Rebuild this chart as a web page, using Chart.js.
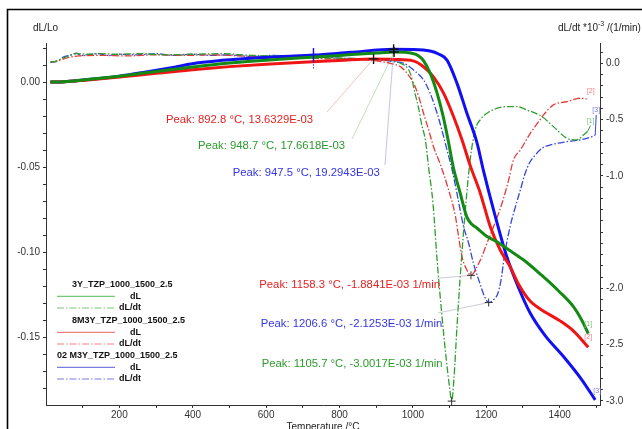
<!DOCTYPE html>
<html>
<head>
<meta charset="utf-8">
<script src="https://cdn.jsdelivr.net/npm/chart.js@4.4.0/dist/chart.umd.min.js"></script>
<style>
  html, body { margin: 0; padding: 0; background: #fff; }
</style>
</head>
<body>
<canvas id="dilato" width="642" height="429"></canvas>
<script>
// sample names, order: green, red, blue
const names = ["3Y_TZP_1000_1500_2.5", "8M3Y_TZP_1000_1500_2.5", "02 M3Y_TZP_1000_1500_2.5"];

// dL/Lo curves (left axis)
const tGreenDL = [12, 50, 100, 200, 300, 400, 500, 600, 700, 800, 900, 948.7, 1000, 1015, 1028, 1047, 1066, 1083, 1096, 1110, 1129, 1147, 1160, 1175, 1200, 1229, 1260, 1302, 1350, 1400, 1437, 1460, 1478];
const greenDL = [0, 0.0002, 0.0012, 0.0035, 0.0062, 0.0089, 0.0112, 0.0129, 0.0143, 0.0157, 0.0171, 0.01766, 0.0168, 0.0155, 0.0129, 0.0053, -0.0065, -0.0206, -0.0341, -0.0500, -0.0653, -0.0793, -0.0835, -0.0860, -0.0905, -0.0940, -0.0985, -0.1047, -0.1135, -0.1235, -0.1320, -0.1400, -0.1480];

const tRedDL = [12, 50, 100, 200, 300, 400, 500, 600, 700, 800, 892.8, 950, 1001, 1029, 1056, 1084, 1111, 1134, 1156, 1184, 1211, 1238, 1265, 1288, 1320, 1347, 1401, 1438, 1478];
const redDL = [0, 0.0002, 0.0010, 0.0030, 0.0052, 0.0073, 0.0091, 0.0105, 0.0117, 0.0127, 0.01363, 0.0133, 0.0125, 0.0090, 0.0031, -0.0066, -0.0204, -0.0341, -0.0490, -0.0655, -0.0851, -0.0988, -0.1086, -0.1190, -0.1290, -0.1335, -0.1405, -0.1465, -0.1560];

const tBlueDL = [12, 50, 100, 200, 273, 350, 410, 480, 546, 640, 729, 830, 947.5, 1000, 1047, 1070, 1093, 1120, 1147, 1175, 1192, 1220, 1256, 1288, 1320, 1360, 1411, 1460, 1497];
const blueDL = [0, 0.0002, 0.0012, 0.0035, 0.0060, 0.0088, 0.0112, 0.0128, 0.0139, 0.0150, 0.0159, 0.0175, 0.01929, 0.0192, 0.0183, 0.0165, 0.0129, -0.0006, -0.0182, -0.0359, -0.0518, -0.0753, -0.1028, -0.1210, -0.1360, -0.1490, -0.1616, -0.1750, -0.1870];

// dL/dt curves (right axis, *10^-3 1/min)
const tGreenRate = [12, 28, 50, 69, 83, 110, 150, 200, 260, 320, 400, 480, 560, 640, 720, 800, 870, 930, 966, 993, 1006, 1015, 1025, 1034, 1043, 1055, 1066, 1078, 1090, 1100, 1105.7, 1112, 1120, 1130, 1143, 1156, 1170, 1184, 1202, 1229, 1261, 1284, 1311, 1352, 1383, 1420, 1447, 1465, 1476];
const greenRate = [0.01, 0.02, 0.05, 0.075, 0.085, 0.08, 0.085, 0.08, 0.085, 0.075, 0.08, 0.085, 0.07, 0.065, 0.05, 0.045, 0.04, 0.03, 0.0, -0.09, -0.27, -0.39, -0.56, -0.68, -0.93, -1.25, -1.75, -2.2, -2.6, -2.88, -3.0017, -2.8, -2.35, -1.85, -1.3, -0.86, -0.59, -0.50, -0.444, -0.40, -0.385, -0.385, -0.415, -0.474, -0.563, -0.666, -0.681, -0.637, -0.607];

const tRedRate = [12, 30, 60, 90, 150, 220, 300, 380, 450, 530, 600, 680, 760, 830, 892.8, 938, 966, 984, 1002, 1016, 1029, 1043, 1056, 1075, 1095, 1116, 1125, 1134, 1147, 1158.3, 1175, 1188, 1202, 1220, 1243, 1261, 1274, 1293, 1320, 1343, 1356, 1383, 1420, 1456, 1474];
const redRate = [0.01, 0.02, 0.05, 0.065, 0.07, 0.065, 0.075, 0.07, 0.075, 0.065, 0.06, 0.05, 0.04, 0.035, 0.025, 0.0, -0.03, -0.089, -0.178, -0.297, -0.444, -0.592, -0.74, -0.90, -1.10, -1.36, -1.55, -1.72, -1.836, -1.8841, -1.806, -1.717, -1.598, -1.451, -1.243, -1.036, -0.859, -0.77, -0.622, -0.518, -0.459, -0.37, -0.341, -0.311, -0.317];

const tBlueRate = [12, 28, 50, 69, 83, 95, 110, 140, 170, 200, 250, 300, 350, 400, 450, 500, 560, 620, 680, 740, 800, 860, 910, 947, 975, 1002, 1029, 1047, 1066, 1079, 1093, 1107, 1120, 1138, 1152, 1165, 1179, 1195, 1206.6, 1220, 1231, 1240, 1250, 1265, 1279, 1293, 1306, 1320, 1334, 1352, 1375, 1420, 1456, 1488, 1497];
const blueRate = [0.01, 0.015, 0.06, 0.074, 0.09, 0.07, 0.074, 0.085, 0.07, 0.08, 0.075, 0.085, 0.07, 0.08, 0.07, 0.075, 0.06, 0.07, 0.055, 0.06, 0.045, 0.04, 0.03, 0.014, 0.0, -0.06, -0.148, -0.266, -0.444, -0.592, -0.77, -0.948, -1.154, -1.45, -1.599, -1.777, -1.92, -2.07, -2.1253, -2.10, -2.05, -1.93, -1.70, -1.45, -1.28, -1.125, -0.977, -0.873, -0.814, -0.755, -0.725, -0.696, -0.681, -0.652, -0.637];

// evaluated peaks
const peakTemps = [948.7, 892.8, 947.5];
const peakDL = [17.6618e-3, 13.6329e-3, 19.2943e-3];
const minTemps = [1105.7, 1158.3, 1206.6];
const minRates = [-3.0017, -1.8841, -2.1253];
const blueOnset = [729, 0.0159];

// ticks (labelled ones in the *Major lists)
const xMajor = [200, 400, 600, 800, 1000, 1200, 1400];
const xMinor = [100, 300, 500, 700, 900, 1100, 1300, 1500];
const yMajor = [0, -0.05, -0.10, -0.15];
const yMinor = [0.02, 0.01, -0.01, -0.02, -0.03, -0.04, -0.06, -0.07, -0.08, -0.09, -0.11, -0.12, -0.13, -0.14, -0.16, -0.17, -0.18];
const y2Major = [0, -0.5, -1.0, -2.0, -2.5, -3.0];
const y2Minor = [0.1, -0.1, -0.2, -0.3, -0.4, -0.6, -0.7, -0.8, -0.9, -1.1, -1.2, -1.3, -1.4, -1.5, -1.6, -1.7, -1.8, -1.9, -2.1, -2.2, -2.3, -2.4, -2.6, -2.7, -2.8, -2.9];

const FONT = '"Liberation Sans", Arial, sans-serif';
const solidCol = ["#138a13", "#f01515", "#1010f2"];
const dashCol = ["#2f9e2f", "#e53a3a", "#3545e0"];
const textCol = ["#2c9a2c", "#e52222", "#3535e0"];
const legendCol = ["#79c879", "#f08080", "#7b7be0"];
const leaderCol = ["rgba(120,190,120,0.6)", "rgba(230,120,120,0.6)", "rgba(150,150,210,0.7)"];

const toPts = (ts, vs) => ts.map((t, i) => ({ x: t, y: vs[i] }));
const solid = (label, ts, vs, color) => ({
  label, data: toPts(ts, vs), yAxisID: "y", borderColor: color, borderWidth: 3,
  pointRadius: 0, fill: false, cubicInterpolationMode: "monotone"
});
const dashed = (label, ts, vs, color) => ({
  label, data: toPts(ts, vs), yAxisID: "y2", borderColor: color, borderWidth: 1.3,
  borderDash: [7, 2, 1.5, 2], pointRadius: 0, fill: false, cubicInterpolationMode: "monotone"
});

const isIn = (list, v) => list.find(t => Math.abs(t - v) < 1e-9);
const setTicks = (major, minor) => ax => {
  ax.ticks = [...major, ...minor].sort((a, b) => a - b).map(v => ({ value: v }));
};

const tickFont = { family: FONT, size: 10 };
const gridOpts = { drawOnChartArea: false, drawTicks: true, tickLength: 3, color: "#333" };

const deco = {
  id: "deco",
  beforeDraw(chart) {
    const c = chart.ctx;
    c.save();
    c.fillStyle = "#fff";
    c.fillRect(0, 0, chart.width, chart.height);
    c.restore();
  },
  afterDraw(chart) {
    const c = chart.ctx;
    const X = v => chart.scales.x.getPixelForValue(v);
    const YL = v => chart.scales.y.getPixelForValue(v);
    const YR = v => chart.scales.y2.getPixelForValue(v);
    c.save();

    // frame
    c.strokeStyle = "#000";
    c.lineWidth = 1.6;
    c.beginPath();
    c.moveTo(7.5, 429); c.lineTo(7.5, 9.5); c.lineTo(642, 9.5);
    c.stroke();

    // axis titles
    c.fillStyle = "#222";
    c.textBaseline = "alphabetic";
    c.textAlign = "left";
    c.font = "10px " + FONT;
    c.fillText("dL/Lo", 33, 30.5);
    let tx = 558;
    c.fillText("dL/dt *10", tx, 30.5);
    tx += c.measureText("dL/dt *10").width;
    c.font = "7px " + FONT;
    c.fillText("-3", tx, 26);
    tx += c.measureText("-3").width;
    c.font = "10px " + FONT;
    c.fillText(" /(1/min)", tx, 30.5);
    c.textAlign = "center";
    c.fillText("Temperature /°C", (chart.chartArea.left + chart.chartArea.right) / 2, 429.5);

    // leader lines to peaks
    const peakText = [[198, 149.3, 352, 139], [166, 122.7, 327, 112], [232.7, 176, 385, 165]];
    const minText = [[261.7, 367.3, null, null], [259.3, 288.3, 437, 278.3], [260.7, 326.7, 438, 313]];
    c.lineWidth = 0.8;
    peakTemps.forEach((t, i) => {
      c.strokeStyle = leaderCol[i];
      c.beginPath();
      c.moveTo(peakText[i][2], peakText[i][3]);
      c.lineTo(X(t), YL(peakDL[i]));
      c.stroke();
    });
    minTemps.forEach((t, i) => {
      if (minText[i][2] === null) return;
      c.strokeStyle = "rgba(170,170,185,0.75)";
      c.beginPath();
      c.moveTo(minText[i][2], minText[i][3]);
      c.lineTo(X(t), YR(minRates[i]));
      c.stroke();
    });

    // markers
    const plus = (x, y, h, col, lw) => {
      c.strokeStyle = col; c.lineWidth = lw;
      c.beginPath();
      c.moveTo(x - h, y); c.lineTo(x + h, y);
      c.moveTo(x, y - h); c.lineTo(x, y + h);
      c.stroke();
    };
    peakTemps.forEach((t, i) => plus(X(t), YL(peakDL[i]), 5, "#111", 1.4));
    minTemps.forEach((t, i) => plus(X(t), YR(minRates[i]), 4, "#333", 1));

    // onset tick on blue dL
    const ox = X(blueOnset[0]), oy = YL(blueOnset[1]);
    c.strokeStyle = solidCol[2];
    c.lineWidth = 1.4;
    c.beginPath(); c.moveTo(ox, oy - 7); c.lineTo(ox, oy + 6); c.stroke();
    c.lineWidth = 0.8;
    c.setLineDash([1.5, 1.5]);
    c.beginPath(); c.moveTo(ox, oy + 6); c.lineTo(ox, oy + 15); c.stroke();
    c.setLineDash([]);

    // peak texts
    c.textAlign = "left";
    c.font = "11.3px " + FONT;
    peakTemps.forEach((t, i) => {
      c.fillStyle = textCol[i];
      c.fillText("Peak: " + t.toFixed(1) + " °C, " + (peakDL[i] * 1000).toFixed(4) + "E-03", peakText[i][0], peakText[i][1]);
    });
    minTemps.forEach((t, i) => {
      c.fillStyle = textCol[i];
      c.fillText("Peak: " + t.toFixed(1) + " °C, " + minRates[i].toFixed(4) + "E-03 1/min", minText[i][0], minText[i][1]);
    });

    // curve end labels
    c.font = "7px " + FONT;
    c.textAlign = "center";
    c.textBaseline = "middle";
    const dlOff = [[0, -10], [0, -10], [2, -9]];
    const rateOff = [[3, -11], [4, -8], [1, -25]];
    [[tGreenDL, greenDL], [tRedDL, redDL], [tBlueDL, blueDL]].forEach(([ts, vs], i) => {
      const n = ts.length - 1;
      c.fillStyle = legendCol[i];
      c.fillText("[" + (i + 1) + "]", X(ts[n]) + dlOff[i][0], YL(vs[n]) + dlOff[i][1]);
    });
    [[tGreenRate, greenRate], [tRedRate, redRate], [tBlueRate, blueRate]].forEach(([ts, vs], i) => {
      const n = ts.length - 1;
      const ex = X(ts[n]), ey = YR(vs[n]);
      if (rateOff[i][1] < -9) {
        c.strokeStyle = dashCol[i];
        c.lineWidth = 1;
        c.beginPath(); c.moveTo(ex, ey); c.lineTo(ex + rateOff[i][0], ey + rateOff[i][1] + 5); c.stroke();
      }
      c.fillStyle = legendCol[i];
      c.fillText("[" + (i + 1) + "]", ex + rateOff[i][0], ey + rateOff[i][1]);
    });

    // legend
    const groupY = [285, 321, 356];
    const groupX = [72, 72, 57];
    c.font = "bold 9px " + FONT;
    names.forEach((nm, i) => {
      const gy = groupY[i];
      c.textAlign = "left";
      c.fillStyle = "#111";
      c.fillText(nm, groupX[i], gy);
      c.textAlign = "right";
      c.fillText("dL", 141, gy + 11.3);
      c.fillText("dL/dt", 141, gy + 23);
      c.strokeStyle = legendCol[i];
      c.lineWidth = 1.2;
      c.beginPath(); c.moveTo(57, gy + 11.3); c.lineTo(115, gy + 11.3); c.stroke();
      c.setLineDash([7, 2, 1.5, 2]);
      c.beginPath(); c.moveTo(57, gy + 23); c.lineTo(115, gy + 23); c.stroke();
      c.setLineDash([]);
    });

    c.restore();
  }
};

new Chart(document.getElementById("dilato"), {
  type: "line",
  data: {
    datasets: [
      solid(names[0] + " dL", tGreenDL, greenDL, solidCol[0]),
      solid(names[1] + " dL", tRedDL, redDL, solidCol[1]),
      solid(names[2] + " dL", tBlueDL, blueDL, solidCol[2]),
      dashed(names[0] + " dL/dt", tGreenRate, greenRate, dashCol[0]),
      dashed(names[1] + " dL/dt", tRedRate, redRate, dashCol[1]),
      dashed(names[2] + " dL/dt", tBlueRate, blueRate, dashCol[2])
    ]
  },
  options: {
    responsive: false,
    animation: false,
    layout: { padding: { top: 43, left: 0, right: 0, bottom: 0 } },
    plugins: { legend: { display: false }, tooltip: { enabled: false } },
    scales: {
      x: {
        type: "linear", position: "bottom", min: 0, max: 1510,
        afterBuildTicks: setTicks(xMajor, xMinor),
        afterFit: s => { s.height = 24; },
        ticks: { autoSkip: false, maxRotation: 0, padding: 1, color: "#333", font: tickFont,
          callback: v => (isIn(xMajor, v) !== undefined ? String(v) : "") },
        grid: gridOpts,
        border: { display: true, color: "#333", width: 1 }
      },
      y: {
        type: "linear", position: "left", min: -0.19, max: 0.023,
        afterBuildTicks: setTicks(yMajor, yMinor),
        afterFit: s => { s.width = 46; },
        ticks: { autoSkip: false, padding: 3, color: "#333", font: tickFont,
          callback: v => { const m = isIn(yMajor, v); return m === undefined ? "" : m.toFixed(2); } },
        grid: gridOpts,
        border: { display: true, color: "#333", width: 1 }
      },
      y2: {
        type: "linear", position: "right", min: -3.036, max: 0.18,
        afterBuildTicks: setTicks(y2Major, y2Minor),
        afterFit: s => { s.width = 42; },
        ticks: { autoSkip: false, padding: 3, color: "#333", font: tickFont,
          callback: v => { const m = isIn(y2Major, v); return m === undefined ? "" : m.toFixed(1); } },
        grid: gridOpts,
        border: { display: true, color: "#333", width: 1 }
      }
    }
  },
  plugins: [deco]
});
</script>
</body>
</html>
